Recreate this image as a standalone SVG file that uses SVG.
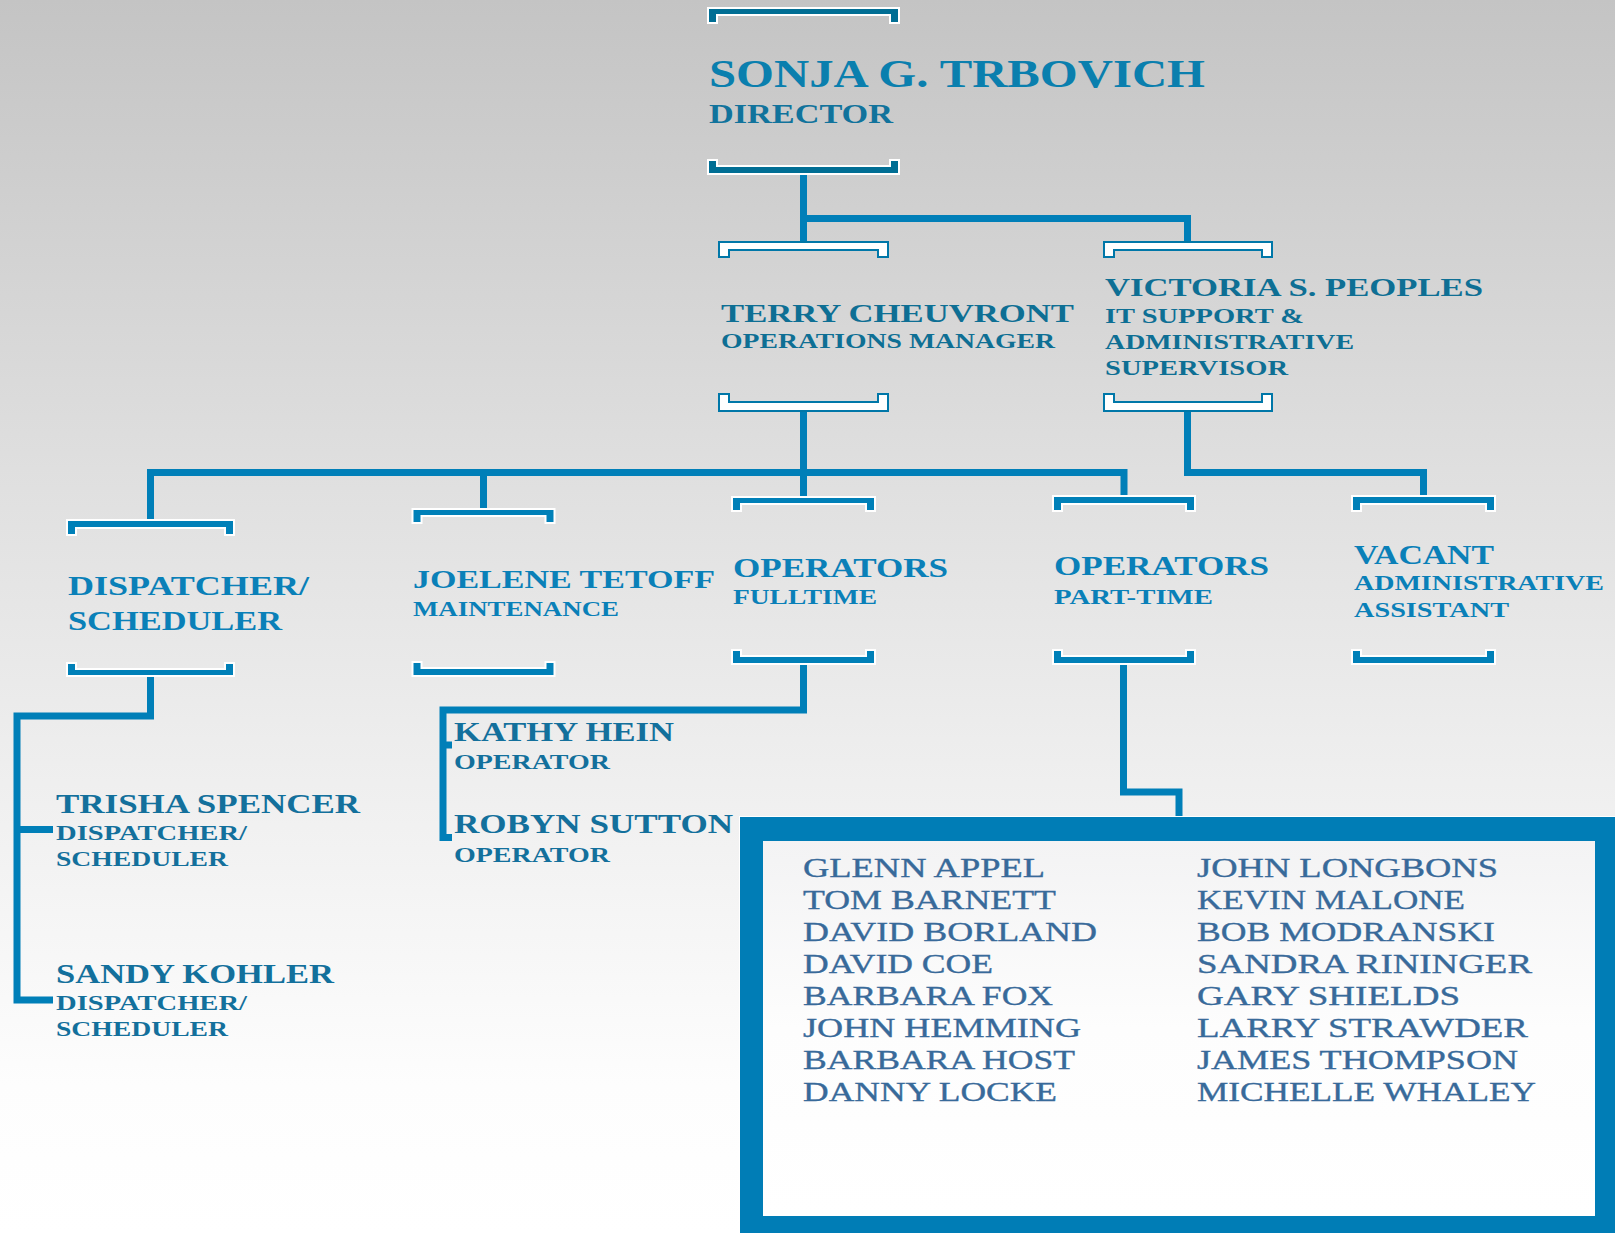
<svg xmlns="http://www.w3.org/2000/svg" width="1615" height="1233" viewBox="0 0 1615 1233">
<defs>
<linearGradient id="bg" x1="0" y1="0" x2="0" y2="1">
<stop offset="0" stop-color="#c4c4c4"/>
<stop offset="0.38" stop-color="#dfdfdf"/>
<stop offset="0.6" stop-color="#ededed"/>
<stop offset="0.88" stop-color="#fdfdfd"/>
<stop offset="1" stop-color="#ffffff"/>
</linearGradient>
<linearGradient id="inner" x1="0" y1="0" x2="0" y2="1">
<stop offset="0" stop-color="#f3f3f4"/>
<stop offset="0.5" stop-color="#fdfdfd"/>
<stop offset="1" stop-color="#ffffff"/>
</linearGradient>
<style>
.t{font-family:"Liberation Serif","DejaVu Serif",serif;}
.nm{font-weight:bold;}
.sb{font-weight:bold;}
.lst{font-weight:normal;stroke:#386a9a;stroke-width:0.35;}
.br1{fill:#006e94;stroke:#ffffff;stroke-width:2;}
.br2{fill:#ffffff;stroke:#0077a8;stroke-width:2;}
.br3{fill:#0080b8;stroke:#ffffff;stroke-width:2;}
.cn{fill:none;stroke:#007fb8;stroke-width:7;stroke-linejoin:miter;stroke-linecap:butt;}
.c0{fill:#0a7fae;}
.c1{fill:#11739c;}
.c2{fill:#0e6f94;}
.c3{fill:#0a80b8;}
.c4{fill:#13709c;}
.c5{fill:#386a9a;}
</style>
</defs>
<rect x="0" y="0" width="1615" height="1233" fill="url(#bg)"/>

<g id="connectors">
<path class="cn" d="M803.5 175 V241 M803.5 218.5 H1187.5 V241"/>
<path class="cn" d="M803.5 412 V496 M150.5 519 V472.5 H1124 V495 M483.5 472.5 V508"/>
<path class="cn" d="M1187.5 411 V472.5 H1423.5 V495"/>
<path class="cn" d="M150.5 677 V716 H17 V1000 H53 M17 829.5 H53"/>
<path class="cn" d="M803.5 665 V710 H443 V837.5 H452 M443 745 H452"/>
<path class="cn" d="M1123.5 665 V792 H1179 V817"/>
</g>

<g id="director">
<path class="br1" d="M708 8 H899 V23 H890 V15 H717 V23 H708 Z"/>
<text class="t nm c0" x="709" y="87" font-size="41" textLength="496" lengthAdjust="spacingAndGlyphs">SONJA G. TRBOVICH</text>
<text class="t sb c1" x="709" y="122.5" font-size="28" textLength="184" lengthAdjust="spacingAndGlyphs">DIRECTOR</text>
<path class="br1" d="M708 160 H717 V166 H890 V160 H899 V174 H708 Z"/>
</g>

<g id="terry">
<path class="br2" d="M719 242 H888 V257 H878 V250 H729 V257 H719 Z"/>
<text class="t nm c2" x="721" y="321.5" font-size="26" textLength="353" lengthAdjust="spacingAndGlyphs">TERRY CHEUVRONT</text>
<text class="t sb c2" x="721" y="348" font-size="21" textLength="334" lengthAdjust="spacingAndGlyphs">OPERATIONS MANAGER</text>
<path class="br2" d="M719 394 H729 V402 H878 V394 H888 V411 H719 Z"/>
</g>

<g id="victoria">
<path class="br2" d="M1104 242 H1272 V257 H1262 V250 H1114 V257 H1104 Z"/>
<text class="t nm c2" x="1105" y="296" font-size="26" textLength="378" lengthAdjust="spacingAndGlyphs">VICTORIA S. PEOPLES</text>
<text class="t sb c2" x="1105" y="323.3" font-size="21" textLength="199" lengthAdjust="spacingAndGlyphs">IT SUPPORT &amp;</text>
<text class="t sb c2" x="1105" y="349.3" font-size="21" textLength="249" lengthAdjust="spacingAndGlyphs">ADMINISTRATIVE</text>
<text class="t sb c2" x="1105" y="374.5" font-size="21" textLength="183" lengthAdjust="spacingAndGlyphs">SUPERVISOR</text>
<path class="br2" d="M1104 394 H1114 V402 H1262 V394 H1272 V411 H1104 Z"/>
</g>

<g id="dispatcher">
<path class="br3" d="M67 520 H234 V535 H225 V528 H76 V535 H67 Z"/>
<text class="t sb c3" x="68" y="595" font-size="28" textLength="241" lengthAdjust="spacingAndGlyphs">DISPATCHER/</text>
<text class="t sb c3" x="68" y="630" font-size="28" textLength="214" lengthAdjust="spacingAndGlyphs">SCHEDULER</text>
<path class="br3" d="M67 663 H76 V669 H225 V663 H234 V676 H67 Z"/>
</g>

<g id="joelene">
<path class="br3" d="M412.5 509 H554.5 V523 H545.5 V516 H421.5 V523 H412.5 Z"/>
<text class="t sb c3" x="413" y="588" font-size="25" textLength="302" lengthAdjust="spacingAndGlyphs">JOELENE TETOFF</text>
<text class="t sb c3" x="413" y="616" font-size="20" textLength="206" lengthAdjust="spacingAndGlyphs">MAINTENANCE</text>
<path class="br3" d="M412.5 662 H421.5 V668 H545.5 V662 H554.5 V676 H412.5 Z"/>
</g>

<g id="operators-fulltime">
<path class="br3" d="M732 497 H875 V511 H866 V504 H741 V511 H732 Z"/>
<text class="t nm c3" x="733" y="577" font-size="28" textLength="215" lengthAdjust="spacingAndGlyphs">OPERATORS</text>
<text class="t sb c3" x="733" y="604" font-size="20" textLength="144" lengthAdjust="spacingAndGlyphs">FULLTIME</text>
<path class="br3" d="M732 650 H741 V656 H866 V650 H875 V664 H732 Z"/>
</g>

<g id="operators-parttime">
<path class="br3" d="M1053 496 H1195 V511 H1186 V504 H1062 V511 H1053 Z"/>
<text class="t nm c3" x="1054" y="575" font-size="28" textLength="215" lengthAdjust="spacingAndGlyphs">OPERATORS</text>
<text class="t sb c3" x="1054" y="604" font-size="20" textLength="159" lengthAdjust="spacingAndGlyphs">PART-TIME</text>
<path class="br3" d="M1053 650 H1062 V656 H1186 V650 H1195 V664 H1053 Z"/>
</g>

<g id="vacant">
<path class="br3" d="M1352 496 H1495 V511 H1486 V504 H1361 V511 H1352 Z"/>
<text class="t nm c3" x="1354" y="564" font-size="28" textLength="140" lengthAdjust="spacingAndGlyphs">VACANT</text>
<text class="t sb c3" x="1354" y="590" font-size="21" textLength="250" lengthAdjust="spacingAndGlyphs">ADMINISTRATIVE</text>
<text class="t sb c3" x="1354" y="617" font-size="21" textLength="155" lengthAdjust="spacingAndGlyphs">ASSISTANT</text>
<path class="br3" d="M1352 650 H1361 V656 H1486 V650 H1495 V664 H1352 Z"/>
</g>

<g id="trisha">
<text class="t nm c4" x="56" y="812.7" font-size="27" textLength="304" lengthAdjust="spacingAndGlyphs">TRISHA SPENCER</text>
<text class="t sb c4" x="56" y="840" font-size="21" textLength="191" lengthAdjust="spacingAndGlyphs">DISPATCHER/</text>
<text class="t sb c4" x="56" y="866" font-size="21" textLength="172" lengthAdjust="spacingAndGlyphs">SCHEDULER</text>
</g>

<g id="sandy">
<text class="t nm c4" x="56" y="982.7" font-size="27" textLength="278" lengthAdjust="spacingAndGlyphs">SANDY KOHLER</text>
<text class="t sb c4" x="56" y="1010" font-size="21" textLength="191" lengthAdjust="spacingAndGlyphs">DISPATCHER/</text>
<text class="t sb c4" x="56" y="1036" font-size="21" textLength="172" lengthAdjust="spacingAndGlyphs">SCHEDULER</text>
</g>

<g id="kathy">
<text class="t nm c4" x="454" y="740.7" font-size="27" textLength="220" lengthAdjust="spacingAndGlyphs">KATHY HEIN</text>
<text class="t sb c4" x="454" y="769" font-size="22" textLength="156" lengthAdjust="spacingAndGlyphs">OPERATOR</text>
</g>

<g id="robyn">
<text class="t nm c4" x="454" y="833" font-size="27" textLength="279" lengthAdjust="spacingAndGlyphs">ROBYN SUTTON</text>
<text class="t sb c4" x="454" y="861.7" font-size="22" textLength="156" lengthAdjust="spacingAndGlyphs">OPERATOR</text>
</g>

<g id="parttime-list">
<rect x="739" y="816" width="880" height="420" fill="#ffffff"/>
<path fill="#007db6" fill-rule="evenodd" d="M740 817 H1615 V1233 H740 Z M763 841 V1216 H1595 V841 Z"/>
<rect x="763" y="841" width="832" height="375" fill="url(#inner)"/>
<g class="t lst c5" font-size="27">
<text x="803" y="877.3" textLength="242" lengthAdjust="spacingAndGlyphs">GLENN APPEL</text>
<text x="803" y="909.2" textLength="253" lengthAdjust="spacingAndGlyphs">TOM BARNETT</text>
<text x="803" y="941.1" textLength="294" lengthAdjust="spacingAndGlyphs">DAVID BORLAND</text>
<text x="803" y="973.0" textLength="190" lengthAdjust="spacingAndGlyphs">DAVID COE</text>
<text x="803" y="1004.9" textLength="250" lengthAdjust="spacingAndGlyphs">BARBARA FOX</text>
<text x="803" y="1036.8" textLength="278" lengthAdjust="spacingAndGlyphs">JOHN HEMMING</text>
<text x="803" y="1068.7" textLength="272" lengthAdjust="spacingAndGlyphs">BARBARA HOST</text>
<text x="803" y="1100.6" textLength="254" lengthAdjust="spacingAndGlyphs">DANNY LOCKE</text>
<text x="1197" y="877.3" textLength="301" lengthAdjust="spacingAndGlyphs">JOHN LONGBONS</text>
<text x="1197" y="909.2" textLength="268" lengthAdjust="spacingAndGlyphs">KEVIN MALONE</text>
<text x="1197" y="941.1" textLength="298" lengthAdjust="spacingAndGlyphs">BOB MODRANSKI</text>
<text x="1197" y="973.0" textLength="335" lengthAdjust="spacingAndGlyphs">SANDRA RININGER</text>
<text x="1197" y="1004.9" textLength="263" lengthAdjust="spacingAndGlyphs">GARY SHIELDS</text>
<text x="1197" y="1036.8" textLength="331" lengthAdjust="spacingAndGlyphs">LARRY STRAWDER</text>
<text x="1197" y="1068.7" textLength="321" lengthAdjust="spacingAndGlyphs">JAMES THOMPSON</text>
<text x="1197" y="1100.6" textLength="339" lengthAdjust="spacingAndGlyphs">MICHELLE WHALEY</text>
</g>
</g>
</svg>
